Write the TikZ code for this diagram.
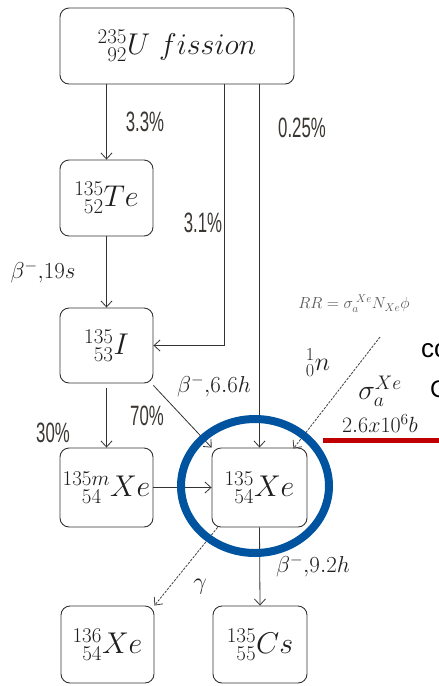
\RequirePackage{fix-cm}
\documentclass[tikz,border=0pt]{standalone}
\usepackage{fontspec}
\usetikzlibrary{arrows.meta}
\newfontfamily\arialfont{Liberation Sans}
\definecolor{pctcol}{RGB}{58,54,50}
\definecolor{mathcol}{RGB}{30,30,30}
\definecolor{ringblue}{RGB}{0,84,159}
\definecolor{barred}{RGB}{192,0,0}
\newcommand{\pct}[1]{\scalebox{0.6}[1]{\fontsize{28}{30}\selectfont\arialfont #1}}
\begin{document}
\begin{tikzpicture}[x=1pt,y=-1pt,
  nucbox/.style={draw=black!80, line width=0.9pt, rounded corners=9pt, fill=white,
    font=\fontsize{30}{32}\selectfont, text=mathcol, inner sep=0pt},
  arr/.style={draw=black!80, line width=0.8pt, -{Straight Barb[length=6pt,width=11pt]}},
  dasharr/.style={arr, draw=black!75, dash pattern=on 2.5pt off 1.2pt},
  pctlab/.style={text=pctcol, inner sep=0pt},
  mlab/.style={text=mathcol, font=\fontsize{23}{25}\selectfont, inner sep=0pt}]
\useasboundingbox (0,0) rectangle (439,686);
% boxes
\node[nucbox, minimum width=234pt, minimum height=76pt] (U) at (177,46) {${}^{235}_{\phantom{2}92}U\ fission$};
\node[nucbox, minimum width=93pt, minimum height=76pt] (Te) at (106.5,198) {${}^{135}_{\phantom{1}52}Te$};
\node[nucbox, minimum width=93pt, minimum height=75pt] (I) at (106.5,345.5) {${}^{135}_{\phantom{1}53}I$};
\node[nucbox, minimum width=93pt, minimum height=79pt] (mXe) at (106.5,487.5) {${}^{135m}_{\phantom{13}54}Xe$};
\node[nucbox, minimum width=95pt, minimum height=79pt] (Xe) at (259.5,487.5) {${}^{135}_{\phantom{1}54}Xe$};
\node[nucbox, minimum width=93pt, minimum height=77pt] (Xe136) at (107.5,644.5) {${}^{136}_{\phantom{1}54}Xe$};
\node[nucbox, minimum width=94pt, minimum height=77pt] (Cs) at (260,644.5) {${}^{135}_{\phantom{1}55}Cs$};
% connectors
\draw[arr] (Te.north |- U.south) -- (Te.north);
\draw[arr] ([xshift=47pt]U.south) |- (I.east);
\draw[arr] (Xe.north |- U.south) -- (Xe.north);
\draw[arr] (Te.south) -- (I.north);
\draw[arr] ([yshift=-5pt]I.south) -- (mXe.north);
\draw[arr] ([yshift=-2pt]I.south east) -- (Xe.north west);
\draw[arr] (mXe.east) -- (Xe.west);
\draw[arr] (Xe.south) -- (Cs.north);
\draw[dasharr] ([xshift=6pt]Xe.south west) -- (Xe136.north east);
\coordinate (nstart) at (380,337);
\draw[dasharr] (nstart) -- ([xshift=-14pt,yshift=-1pt]Xe.north east);
% labels
\node[pctlab] (l33) at (145,122) {\pct{3.3\%}};
\node[pctlab] (l31) at (203,223) {\pct{3.1\%}};
\node[pctlab] (l025) at (302,128) {\pct{0.25\%}};
\node[pctlab] (l30) at (53,433) {\pct{30\%}};
\node[pctlab] (l70) at (147,416) {\pct{70\%}};
\node[mlab] (b19) at (43,272) {$\beta^-{,}19s$};
\node[mlab] (b66) at (214,386) {$\beta^-{,}6.6h$};
\node[mlab] (b92) at (313,566) {$\beta^-{,}9.2h$};
\node[mlab, font=\fontsize{24}{26}\selectfont] (gam) at (200,587) {$\gamma$};
\node[text=black!65, font=\fontsize{16}{18}\selectfont, inner sep=0pt] (RR) at (354,304) {$RR=\sigma_a^{\;Xe}N_{Xe}\phi$};
\node[mlab, font=\fontsize{26}{28}\selectfont] (neut) at (318,363) {${}^1_0n$};
\node[mlab, font=\fontsize{28}{30}\selectfont] (sig) at (380,391) {$\sigma_a^{Xe}$};
\node[mlab, font=\fontsize{22}{24}\selectfont] (xs) at (380,424) {$2.6x10^6b$};
% red bar and blue ring
\draw[barred, line width=5pt] (323,440) -- (439,440);
\draw[ringblue, line width=8pt] ([shift={(-4.5pt,1.5pt)}]Xe.center) ellipse (74pt and 67pt);
% clipped text at right edge
\node[anchor=west, inner sep=0pt, font=\arialfont\fontsize{26}{28}\selectfont] (co) at (421,351) {co};
\node[anchor=west, inner sep=0pt, font=\arialfont\fontsize{24}{26}\selectfont] (cc) at (430,389) {C};
\end{tikzpicture}
\end{document}
